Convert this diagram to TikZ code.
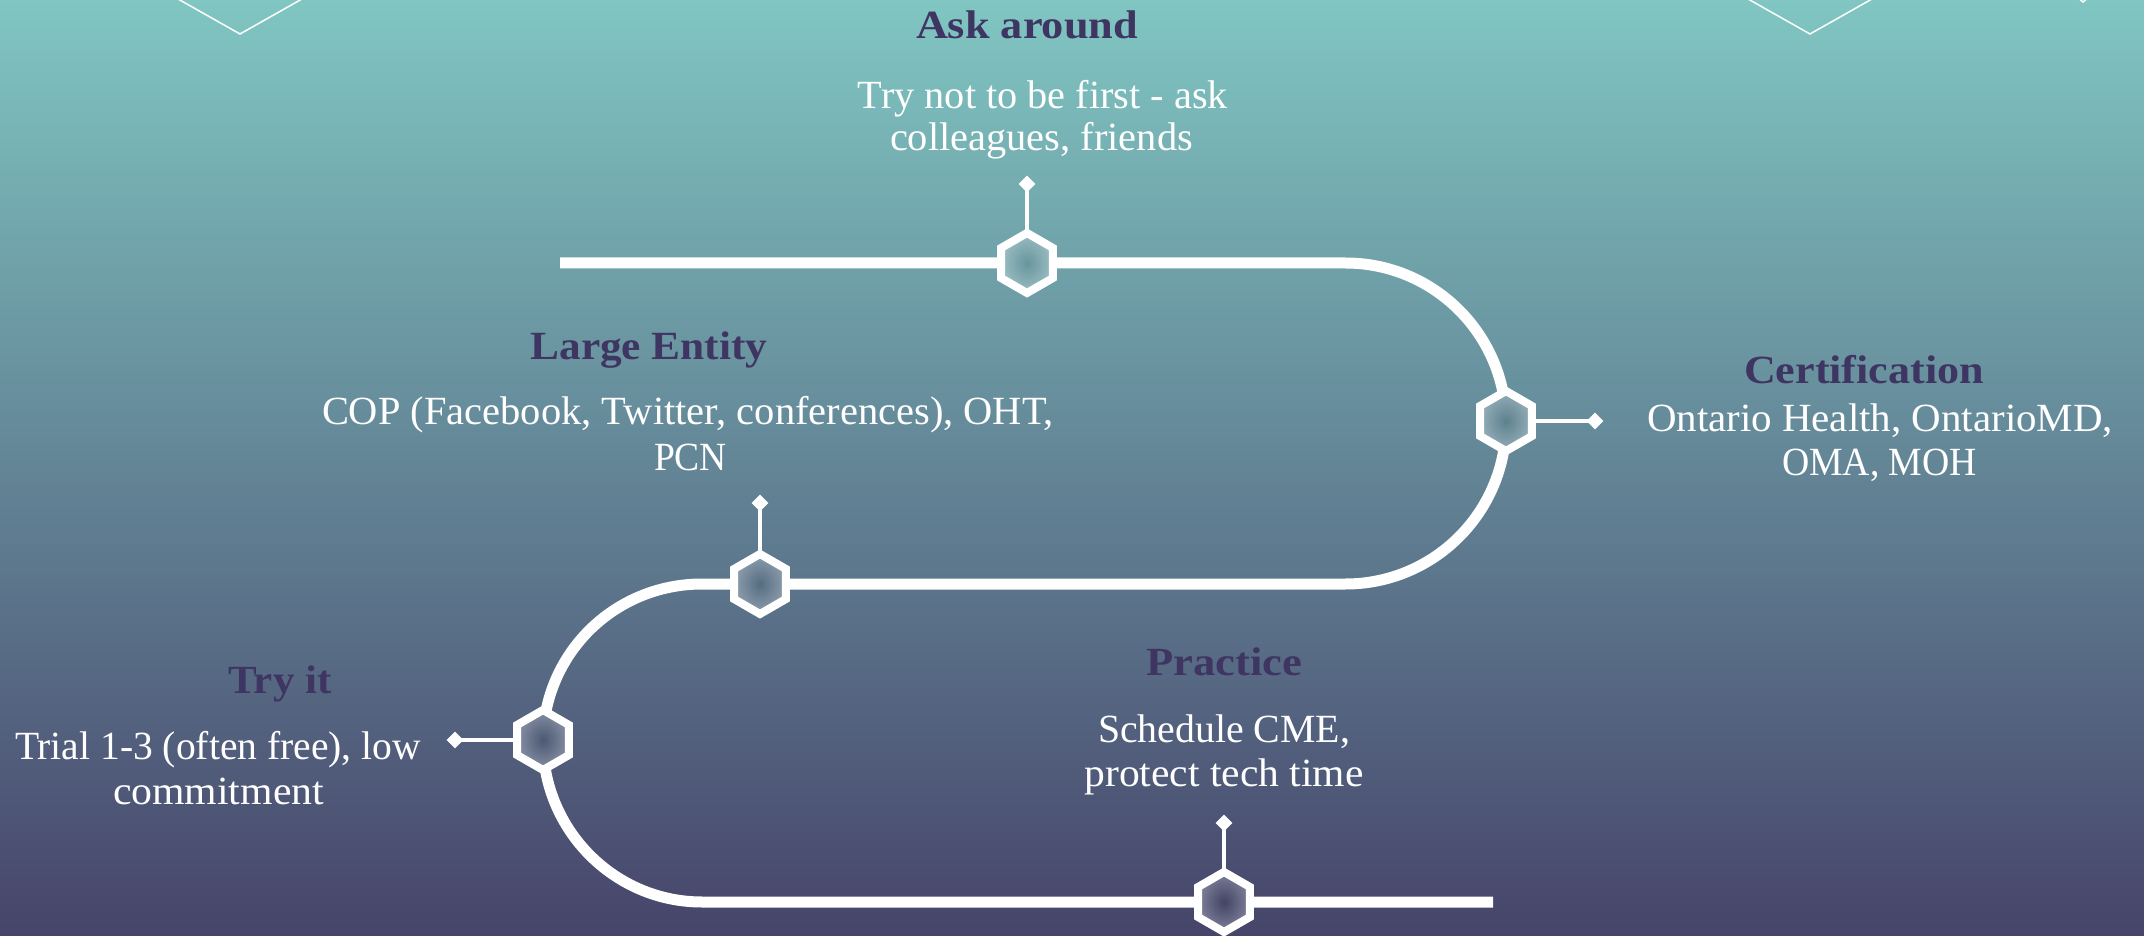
\documentclass[tikz,border=0pt]{standalone}
\usepackage{fontspec}
\setmainfont{Liberation Serif}
\usetikzlibrary{shapes.geometric}
\newlength\px \setlength\px{0.5pt}
\definecolor{bgtop}{HTML}{80C6C2}
\definecolor{bgbot}{HTML}{46446A}
\definecolor{ttlcol}{HTML}{3F3562}
\tikzset{
  titletext/.style={text=ttlcol, font=\fontsize{20}{24}\selectfont\bfseries},
  bodytext/.style={text=white, font=\fontsize{20}{24}\selectfont},
  track/.style={white, line width=11\px},
  stemline/.style={white, line width=4\px},
  dia/.style={diamond, fill=white, inner sep=0pt, minimum size=17\px},
  deco/.style={white, line width=1.5\px},
}
\newcommand\txtline[6]{%
  \node[#5, anchor=base, inner sep=0pt] (#1) at (#2,#3) {\resizebox{#4\px}{\height}{#6}};}
\newcommand\hexmark[4]{%
  \coordinate (#1) at (#2,#3);
  \colorlet{hexbg}{bgbot!#4!bgtop}
  \shade[inner color=hexbg!92!black, outer color=hexbg!70!white]
    (#1) +(90:30) -- +(150:30) -- +(210:30) -- +(270:30) -- +(330:30) -- +(30:30) -- cycle;
  \draw[white, line width=8\px]
    (#1) +(90:30) -- +(150:30) -- +(210:30) -- +(270:30) -- +(330:30) -- +(30:30) -- cycle;
}
\begin{document}
\begin{tikzpicture}[x=0.5pt, y=-0.5pt]
\useasboundingbox (0,0) rectangle (2144,936);
\clip (0,0) rectangle (2144,936);
\shade[top color=bgtop, bottom color=bgbot] (0,0) rectangle (2144,936);

% decorative hexagon tips at the top edge
\draw[deco] (171,-5) -- (240,34) -- (309,-5);
\draw[deco] (1741,-5) -- (1810,34) -- (1879,-5);
\draw[deco] (2077,-3) -- (2083,2) -- (2089,-3);

% main track
\draw[track] (560,263) -- (1345.5,263)
  .. controls (1434.1,263) and (1506,334.9) .. (1506,423.5)
  .. controls (1506,512.1) and (1434.1,584) .. (1345.5,584)
  -- (702,584)
  .. controls (614.2,584) and (543,654.2) .. (543,742)
  .. controls (543,829.8) and (614.2,902) .. (702,902)
  -- (1493,902);

% diamonds and stems
\node[dia] (d1) at (1027,184) {};
\node[dia] (d2) at (1595,421) {};
\node[dia] (d3) at (760,503) {};
\node[dia] (d4) at (455,740) {};
\node[dia] (d5) at (1224,823) {};
\coordinate (s1) at (1027,263);
\coordinate (s2) at (1506,421);
\coordinate (s3) at (760,584);
\coordinate (s4) at (543,740);
\coordinate (s5) at (1224,902);
\draw[stemline] (s1) -- (d1.center);
\draw[stemline] (s2) -- (d2.center);
\draw[stemline] (s3) -- (d3.center);
\draw[stemline] (s4) -- (d4.center);
\draw[stemline] (s5) -- (d5.center);

% hexagon markers
\hexmark{h1}{1027}{263}{28}
\hexmark{h2}{1506}{421}{45}
\hexmark{h3}{760}{584}{62}
\hexmark{h4}{543}{740}{79}
\hexmark{h5}{1224}{902}{96}

% texts
\txtline{t1}{1027}{39}{222}{titletext}{Ask around}
\txtline{b1a}{1043}{109}{370}{bodytext}{Try not to be first - ask}
\txtline{b1b}{1041.5}{151}{303}{bodytext}{colleagues, friends}

\txtline{t2}{1864}{384}{240}{titletext}{Certification}
\txtline{b2a}{1880}{431}{466}{bodytext}{Ontario Health, OntarioMD,}
\txtline{b2b}{1879.5}{475}{195}{bodytext}{OMA, MOH}

\txtline{t3}{649}{360}{237}{titletext}{Large Entity}
\txtline{b3a}{688}{425}{732}{bodytext}{COP (Facebook, Twitter, conferences), OHT,}
\txtline{b3b}{690.5}{471}{73}{bodytext}{PCN}

\txtline{t4}{280}{693}{103}{titletext}{Try it}
\txtline{b4a}{218}{759}{406}{bodytext}{Trial 1-3 (often free), low}
\txtline{b4b}{218.5}{804}{211}{bodytext}{commitment}

\txtline{t5}{1224}{675}{156}{titletext}{Practice}
\txtline{b5a}{1224}{742}{252}{bodytext}{Schedule CME,}
\txtline{b5b}{1224}{786}{279}{bodytext}{protect tech time}
\end{tikzpicture}
\end{document}
